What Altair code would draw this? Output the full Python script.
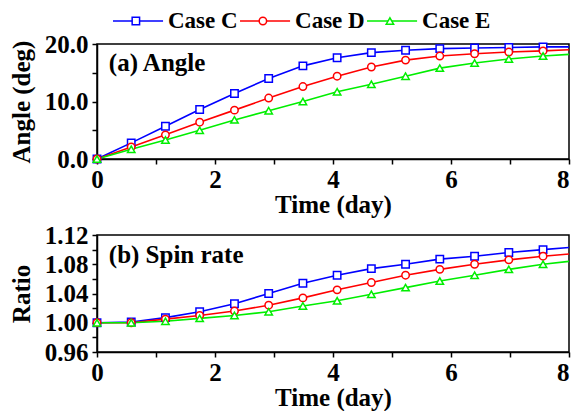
import altair as alt
import pandas as pd

# ---- data ----
cases = ["Case C", "Case D", "Case E"]
colors = ["#0000ff", "#ff0000", "#00ee00"]
shapes = ["square", "circle", "triangle-up"]

time = [0, 0.58, 1.16, 1.74, 2.33, 2.91, 3.49, 4.07, 4.65, 5.23, 5.81, 6.40, 6.98, 7.56, 8.0]

angle_c = [0, 2.8, 5.7, 8.6, 11.4, 14.0, 16.2, 17.6, 18.5, 18.9, 19.2, 19.3, 19.4, 19.5, 19.5]
angle_d = [0, 2.1, 4.2, 6.4, 8.5, 10.6, 12.6, 14.4, 16.0, 17.2, 17.9, 18.3, 18.6, 18.8, 19.0]
angle_e = [0, 1.7, 3.3, 5.0, 6.8, 8.4, 10.0, 11.7, 13.0, 14.4, 15.8, 16.7, 17.4, 17.9, 18.2]

ratio_c = [1.000, 1.001, 1.007, 1.015, 1.026, 1.040, 1.054, 1.065, 1.074, 1.080, 1.087, 1.091, 1.096, 1.100, 1.103]
ratio_d = [1.000, 1.000, 1.005, 1.010, 1.016, 1.024, 1.034, 1.045, 1.055, 1.065, 1.073, 1.080, 1.086, 1.091, 1.094]
ratio_e = [1.000, 1.000, 1.002, 1.006, 1.010, 1.015, 1.023, 1.030, 1.039, 1.048, 1.057, 1.065, 1.073, 1.080, 1.084]

x_ticks = [0, 1, 2, 3, 4, 5, 6, 7, 8]
angle_ticks = [0, 5, 10, 15, 20]
angle_labels = ["0.0", "10.0", "20.0"]
ratio_ticks = [0.96, 0.98, 1.00, 1.02, 1.04, 1.06, 1.08, 1.10, 1.12]
ratio_labels = ["0.96", "1.00", "1.04", "1.08", "1.12"]

FONT = "Liberation Serif"
W = 472


def make_df(series):
    rows = []
    for case, vals in zip(cases, series):
        for i, (t, v) in enumerate(zip(time, vals)):
            rows.append({"case": case, "t": t, "v": v, "marker": i < len(time) - 1})
    return pd.DataFrame(rows)


color_scale = alt.Scale(domain=cases, range=colors)
shape_scale = alt.Scale(domain=cases, range=shapes)


def shown(labels, fmt):
    arr = "[" + ",".join("'%s'" % s for s in labels) + "]"
    return ("indexof(%s, format(datum.value, '%s')) >= 0 ? format(datum.value, '%s') : ''"
            % (arr, fmt, fmt))


def panel(df, ydomain, yticks, ytitle, label_expr, label_text, label_y, h):
    x = alt.X("t:Q", scale=alt.Scale(domain=[0, 8], nice=False),
              axis=alt.Axis(values=x_ticks, title="Time (day)",
                            labelExpr="datum.value % 2 == 0 ? format(datum.value, 'd') : ''",
                            labelAlign={"condition": {"test": "datum.value == 8", "value": "right"},
                                        "value": "center"},
                            labelFlush=False, labelOverlap=False, labelPadding=3,
                            titlePadding=0))
    y = alt.Y("v:Q", scale=alt.Scale(domain=ydomain, nice=False, zero=False),
              axis=alt.Axis(values=yticks, title=ytitle, labelExpr=label_expr,
                            labelOverlap=False, labelFlush=False,
                            labelPadding=4, titlePadding=10))
    base = alt.Chart(df)
    lines = base.mark_line(strokeWidth=1.6, clip=True).encode(
        x=x, y=y, color=alt.Color("case:N", scale=color_scale, legend=None),
        detail="case:N")
    pts = base.transform_filter("datum.marker").mark_point(
        filled=True, fill="white", size=55, strokeWidth=1.5, opacity=1).encode(
        x=x, y=y,
        stroke=alt.Stroke("case:N", scale=color_scale, legend=None),
        shape=alt.Shape("case:N", scale=shape_scale, legend=None))
    lab = alt.Chart(pd.DataFrame({"t": [0.2], "v": [label_y], "s": [label_text]})).mark_text(
        align="left", baseline="middle", font=FONT, fontWeight="bold", fontSize=25,
        color="black").encode(x=x, y=y, text="s:N")
    return alt.layer(lines, pts, lab).properties(width=W, height=h)


top = panel(make_df([angle_c, angle_d, angle_e]), [0, 20], angle_ticks, "Angle (deg)",
            shown(angle_labels, ".1f"), "(a) Angle", 16.7, 115)
bottom = panel(make_df([ratio_c, ratio_d, ratio_e]), [0.96, 1.12], ratio_ticks, "Ratio",
               shown(ratio_labels, ".2f"), "(b) Spin rate", 1.092, 117)

# ---- custom legend ----
leg = pd.DataFrame({"case": cases, "i": [0, 1, 2]})
lx = alt.Scale(domain=[-0.126, 3.59], nice=False, zero=False)
lbase = alt.Chart(leg).transform_calculate(
    x1="datum.i", x2="datum.i + 0.394", xm="datum.i + 0.18", xt="datum.i + 0.433")
lrule = lbase.mark_rule(strokeWidth=1.6).encode(
    x=alt.X("x1:Q", scale=lx, axis=None), x2="x2:Q", y=alt.value(12),
    color=alt.Color("case:N", scale=color_scale, legend=None))
lpt = lbase.mark_point(filled=True, fill="white", size=55, strokeWidth=1.5, opacity=1).encode(
    x=alt.X("xm:Q", scale=lx, axis=None), y=alt.value(12),
    stroke=alt.Stroke("case:N", scale=color_scale, legend=None),
    shape=alt.Shape("case:N", scale=shape_scale, legend=None))
ltxt = lbase.mark_text(align="left", baseline="middle", font=FONT, fontWeight="bold",
                       fontSize=23, color="black").encode(
    x=alt.X("xt:Q", scale=lx, axis=None), y=alt.value(12), text="case:N")
legend = alt.layer(lrule, lpt, ltxt).properties(
    width=W, height=24, view=alt.ViewBackground(stroke="transparent"))

panels = alt.vconcat(top, bottom, spacing=76, bounds="flush")

chart = alt.vconcat(legend, panels, spacing=11, bounds="flush", padding=0).resolve_scale(
    color="independent", shape="independent", stroke="independent"
).configure_view(stroke="black", strokeWidth=1.5).configure_axis(
    labelFont=FONT, titleFont=FONT, labelFontSize=25, titleFontSize=25,
    labelFontWeight="bold", titleFontWeight="bold", labelColor="black", titleColor="black",
    domainColor="black", tickColor="black", domainWidth=1.5, tickWidth=1.5, tickSize=5,
    grid=False, labelOverlap=False
)

chart.save("out.html", embed_options={"renderer": "svg", "actions": False})
